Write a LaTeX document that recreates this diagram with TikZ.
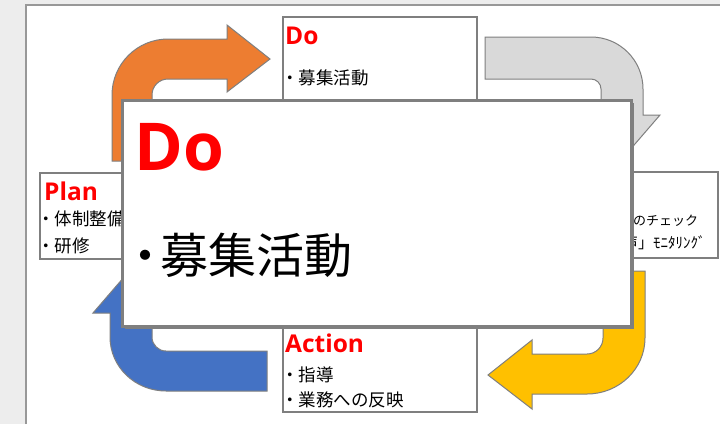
\documentclass[tikz,border=0pt]{standalone}
\usepackage{fontspec}
\setmainfont{Noto Sans CJK JP}
\newfontfamily\titlefont{Open Sans}
\usetikzlibrary{shadows}
\definecolor{linegray}{HTML}{7F7F7F}
\definecolor{backgray}{HTML}{EDEDED}
\definecolor{orangeA}{HTML}{ED7D31}
\definecolor{grayA}{HTML}{D9D9D9}
\definecolor{yellowA}{HTML}{FFC000}
\definecolor{blueA}{HTML}{4472C4}
\begin{document}
\begin{tikzpicture}[x=1pt,y=-1pt,
    box/.style={draw=linegray,line width=2pt,fill=white,inner sep=0pt},
    title/.style={anchor=west,inner sep=0pt,text=red,font=\fontsize{24.5}{24.5}\titlefont\bfseries},
    item/.style={anchor=west,inner sep=0pt,font=\fontsize{17.5}{17.5}\selectfont},
    bent/.style={draw=linegray,line width=1pt}
   ]
  \useasboundingbox (0,0) rectangle (720,424);
  \fill[backgray] (0,0) rectangle (720,424);
  \fill[white] (26,5) rectangle (720,424);
  \draw[linegray!80,line width=1.5pt] (26,424) -- (26,5) -- (720,5);
  % bent arrows of the cycle
  \draw[bent,fill=orangeA] (112,161) -- (112,95) arc[start angle=180,end angle=90,radius=56pt]
     -- (227,39) -- (227,25) -- (270,59) -- (227,92) -- (227,79) -- (168,79)
     arc[start angle=90,end angle=180,radius=16pt] -- (152,161) -- cycle;
  \draw[bent,fill=grayA] (485,37) -- (591,37) arc[start angle=90,end angle=0,radius=52pt]
     -- (643,115) -- (660,115) -- (622,159) -- (584,115) -- (601,115) -- (601,89)
     arc[start angle=0,end angle=90,radius=10pt] -- (485,79) -- cycle;
  \draw[bent,fill=yellowA] (603,271) -- (645,271) -- (645,338)
     arc[start angle=0,end angle=-90,x radius=58pt,y radius=56pt]
     -- (532,394) -- (532,409) -- (488,375) -- (532,340) -- (532,354) -- (587,354)
     arc[start angle=-90,end angle=0,radius=16pt] -- cycle;
  \draw[bent,fill=blueA] (267,351) -- (267,391) -- (166,391)
     arc[start angle=-90,end angle=-180,x radius=56pt,y radius=54pt]
     -- (110,313) -- (93,313) -- (131,269) -- (169,313) -- (152,313) -- (152,337)
     arc[start angle=180,end angle=270,radius=14pt] -- cycle;
  % the four small boxes
  \node[box,minimum width=194,minimum height=93] (dobox) at (380,63.5) {};
  \node[box,minimum width=120,minimum height=86.5] (planbox) at (100,215.75) {};
  \node[box,minimum width=118,minimum height=86] (checkbox) at (659,215) {};
  \node[box,minimum width=194,minimum height=112] (actbox) at (380,356) {};
  \node[title] (dotitle) at (285,36) {Do};
  \node[item] (doitem) at (281,78) {・募集活動};
  \node[title] (plantitle) at (44,191) {Plan};
  \node[item] (planitemA) at (37,219) {・体制整備};
  \node[item] (planitemB) at (37,246) {・研修};
  \node[item,font=\fontsize{13}{13}\selectfont] (checkitemA) at (633,221) {のチェック};
  \node[item,font=\fontsize{15}{15}\selectfont] (checkitemB) at (623,243) {声」ﾓﾆﾀﾘﾝｸﾞ};
  \node[title] (acttitle) at (285,343) {Action};
  \node[item] (actitemA) at (281,375) {・指導};
  \node[item] (actitemB) at (281,400) {・業務への反映};
  % enlarged Do box on top
  \node[box,line width=3pt,minimum width=509,minimum height=226,
        drop shadow={shadow xshift=3pt,shadow yshift=-3pt,opacity=1,fill=linegray}] (bigbox) at (376.5,213) {};
  \node[title,font=\fontsize{66}{66}\titlefont\bfseries] (bigtitle) at (134,147) {Do};
  \node[item,font=\fontsize{48}{48}\selectfont] (bigitem) at (121,255) {・\kern-9pt 募集活動};
\end{tikzpicture}
\end{document}
